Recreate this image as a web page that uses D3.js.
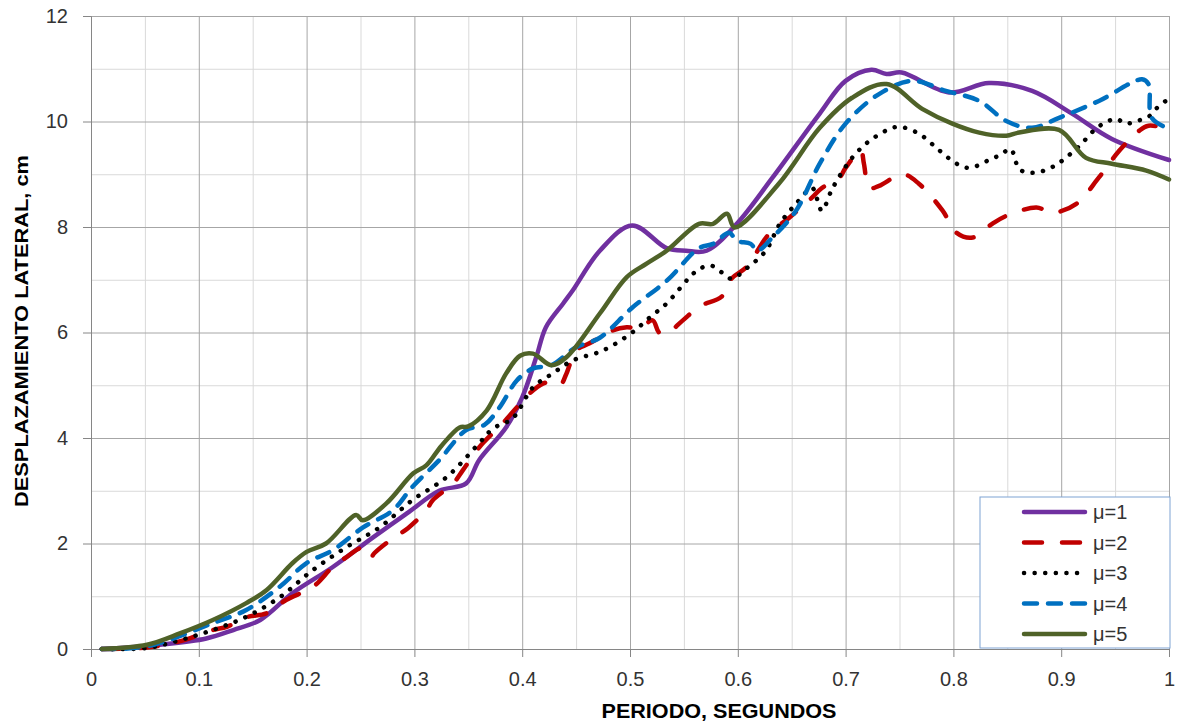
<!DOCTYPE html>
<html>
<head>
<meta charset="utf-8">
<script src="https://cdn.jsdelivr.net/npm/d3@7"></script>
<style>
body { margin: 0; background: #fff; }
text { font-family: "Liberation Sans", Arial, sans-serif; }
</style>
</head>
<body>
<script>
// periods (s) and lateral displacement (cm), one pair of arrays per ductility
var mu1T = [0.01,0.02,0.064,0.107,0.132,0.157,0.187,0.224,0.262,0.293,0.323,0.348,0.36,0.385,0.40,0.413,0.422,0.438,0.447,0.472,0.502,0.534,0.552,0.571,0.599,0.632,0.676,0.70,0.724,0.738,0.752,0.796,0.833,0.873,0.91,0.947,1.0];
var mu1D = [0,0.01,0.08,0.2,0.36,0.55,1.06,1.55,2.12,2.57,3.0,3.14,3.58,4.2,4.77,5.53,6.1,6.55,6.8,7.55,8.03,7.6,7.55,7.55,8.06,8.93,10.15,10.77,10.98,10.9,10.93,10.55,10.73,10.58,10.15,9.67,9.27];

var mu2T = [0.01,0.052,0.083,0.113,0.126,0.144,0.163,0.181,0.206,0.224,0.237,0.251,0.259,0.263,0.28,0.294,0.311,0.317,0.336,0.345,0.36,0.382,0.395,0.41,0.422,0.435,0.441,0.45,0.462,0.484,0.497,0.509,0.521,0.527,0.534,0.549,0.565,0.585,0.594,0.608,0.629,0.648,0.669,0.678,0.694,0.70,0.714,0.717,0.722,0.731,0.753,0.768,0.79,0.803,0.818,0.836,0.849,0.877,0.892,0.914,0.935,0.954,0.972,0.981,1.0];
var mu2D = [0,0.03,0.15,0.36,0.42,0.6,0.68,0.93,1.18,1.55,1.74,1.91,1.72,1.82,2.1,2.29,2.63,2.82,3.14,3.39,3.82,4.28,4.58,4.9,5.05,5.0,5.22,5.66,5.79,6.04,6.1,6.08,6.23,6.0,5.98,6.23,6.5,6.68,7.02,7.24,7.87,8.18,8.56,8.74,8.93,9.12,9.45,9.2,8.74,8.78,9.0,8.82,8.31,7.89,7.8,8.06,8.21,8.37,8.27,8.44,8.94,9.45,9.82,9.92,9.86];

var mu3T = [0.01,0.052,0.083,0.113,0.144,0.175,0.206,0.237,0.268,0.298,0.33,0.36,0.373,0.391,0.41,0.428,0.447,0.475,0.502,0.518,0.534,0.555,0.564,0.575,0.585,0.594,0.609,0.626,0.639,0.654,0.669,0.673,0.678,0.688,0.706,0.722,0.741,0.75,0.768,0.787,0.803,0.815,0.835,0.844,0.853,0.861,0.87,0.881,0.892,0.901,0.917,0.932,0.941,0.951,0.96,0.97,0.981,0.989,0.997,1.0];
var mu3D = [0,0.02,0.17,0.36,0.61,0.98,1.5,1.93,2.31,2.82,3.26,3.9,4.18,4.37,4.96,5.22,5.47,5.66,6.0,6.28,6.55,7.04,7.2,7.27,7.14,7.02,7.23,7.55,8.06,8.44,8.74,8.56,8.31,8.74,9.31,9.63,9.86,9.9,9.77,9.45,9.2,9.12,9.29,9.37,9.48,9.1,9.03,9.05,9.14,9.26,9.54,9.86,9.98,10.05,9.96,10.01,10.09,10.26,10.39,10.42];

var mu4T = [0.01,0.052,0.113,0.144,0.175,0.2,0.224,0.252,0.28,0.298,0.323,0.348,0.365,0.379,0.395,0.41,0.427,0.45,0.472,0.502,0.534,0.564,0.577,0.592,0.599,0.612,0.618,0.632,0.654,0.676,0.70,0.731,0.762,0.793,0.824,0.849,0.873,0.898,0.935,0.975,0.981,0.984,1.0];
var mu4D = [0,0.05,0.49,0.74,1.18,1.63,1.87,2.3,2.63,3.07,3.58,4.15,4.25,4.58,5.09,5.32,5.38,5.72,5.9,6.47,6.98,7.6,7.68,7.89,7.74,7.68,7.55,7.8,8.31,9.2,9.96,10.52,10.77,10.58,10.39,10.01,9.88,10.07,10.39,10.8,10.71,10.07,9.86];

var mu5T = [0.01,0.052,0.083,0.113,0.144,0.163,0.187,0.2,0.218,0.246,0.252,0.274,0.299,0.311,0.325,0.342,0.35,0.367,0.385,0.398,0.41,0.427,0.441,0.472,0.497,0.515,0.534,0.564,0.577,0.59,0.597,0.638,0.676,0.706,0.738,0.771,0.799,0.824,0.849,0.861,0.898,0.923,0.947,0.979,1.0];
var mu5D = [0,0.08,0.3,0.55,0.87,1.12,1.63,1.84,2.0,2.54,2.44,2.76,3.33,3.48,3.85,4.2,4.22,4.52,5.22,5.56,5.6,5.38,5.53,6.36,7.05,7.3,7.55,8.06,8.06,8.25,7.99,8.82,9.88,10.45,10.71,10.24,9.96,9.79,9.73,9.79,9.84,9.31,9.2,9.07,8.9];

var seriesNames = ["μ=1", "μ=2", "μ=3", "μ=4", "μ=5"];
var xTicks = [0, 0.1, 0.2, 0.3, 0.4, 0.5, 0.6, 0.7, 0.8, 0.9, 1];
var xMinor = [0.05, 0.15, 0.25, 0.35, 0.45, 0.55, 0.65, 0.75, 0.85, 0.95];
var yTicks = [0, 2, 4, 6, 8, 10, 12];
var yMinor = [1, 3, 5, 7, 9, 11];

var margin = {top: 16, right: 9, bottom: 78, left: 91};
var width = 1178 - margin.left - margin.right;
var height = 727 - margin.top - margin.bottom;

var svg = d3.select("body").append("svg")
    .attr("width", width + margin.left + margin.right)
    .attr("height", height + margin.top + margin.bottom)
    .append("g")
    .attr("transform", "translate(" + margin.left + "," + margin.top + ")");

var x = d3.scaleLinear().domain([0, 1]).range([0, width]);
var y = d3.scaleLinear().domain([0, 12]).range([height, 0]);

// minor grid first, major on top of it
svg.append("g")
    .attr("transform", "translate(0," + height + ")")
    .call(d3.axisBottom(x).tickValues(xMinor).tickSize(-height).tickFormat(""))
    .call(g => g.select(".domain").remove())
    .call(g => g.selectAll("line").attr("stroke", "#d9d9d9"));
svg.append("g")
    .call(d3.axisLeft(y).tickValues(yMinor).tickSize(-width).tickFormat(""))
    .call(g => g.select(".domain").remove())
    .call(g => g.selectAll("line").attr("stroke", "#d9d9d9"));
svg.append("g")
    .attr("transform", "translate(0," + height + ")")
    .call(d3.axisBottom(x).tickValues(xTicks).tickSize(-height).tickFormat(""))
    .call(g => g.select(".domain").remove())
    .call(g => g.selectAll("line").attr("stroke", "#a6a6a6"));
svg.append("g")
    .call(d3.axisLeft(y).tickValues(yTicks).tickSize(-width).tickFormat(""))
    .call(g => g.select(".domain").remove())
    .call(g => g.selectAll("line").attr("stroke", "#a6a6a6"));

// axes
var xAxis = svg.append("g")
    .attr("transform", "translate(0," + height + ")")
    .call(d3.axisBottom(x).tickValues(xTicks).tickSize(8).tickPadding(15).tickFormat(d => d));
var yAxis = svg.append("g")
    .call(d3.axisLeft(y).tickValues(yTicks).tickSize(8).tickPadding(15).tickFormat(d => d));
[xAxis, yAxis].forEach(function(a) {
    a.select(".domain").attr("stroke", "#868686");
    a.selectAll(".tick line").attr("stroke", "#868686");
    a.selectAll("text").style("font-size", "20px").attr("fill", "#333");
});

// axis titles
svg.append("text")
    .attr("x", width / 2 + 89)
    .attr("y", height + 69)
    .attr("text-anchor", "middle")
    .attr("textLength", 235)
    .attr("lengthAdjust", "spacingAndGlyphs")
    .style("font-size", "21px")
    .style("font-weight", "bold")
    .text("PERIODO, SEGUNDOS");

svg.append("text")
    .attr("transform", "translate(" + (-63) + "," + (331 - margin.top) + ") rotate(-90)")
    .attr("text-anchor", "middle")
    .attr("textLength", 352)
    .attr("lengthAdjust", "spacingAndGlyphs")
    .style("font-size", "19px")
    .style("font-weight", "bold")
    .text("DESPLAZAMIENTO LATERAL, cm");

// series
var series = [
    {name: seriesNames[0], t: mu1T, d: mu1D, color: "#7030a0", dash: null},
    {name: seriesNames[1], t: mu2T, d: mu2D, color: "#c00000", dash: "18,20"},
    {name: seriesNames[2], t: mu3T, d: mu3D, color: "#000000", dash: "0.1,10.5"},
    {name: seriesNames[3], t: mu4T, d: mu4D, color: "#0070c0", dash: "13,11"},
    {name: seriesNames[4], t: mu5T, d: mu5D, color: "#4f6228", dash: null}
];

var line = d3.line()
    .x(function(p) { return x(p[0]); })
    .y(function(p) { return y(p[1]); })
    .curve(d3.curveCatmullRom.alpha(0.5));

series.forEach(function(s) {
    svg.append("path")
        .datum(d3.zip(s.t, s.d))
        .attr("fill", "none")
        .attr("stroke", s.color)
        .attr("stroke-width", 4.5)
        .attr("stroke-linecap", "round")
        .attr("stroke-linejoin", "round")
        .attr("stroke-dasharray", s.dash)
        .attr("d", line);
});

// legend
var legend = svg.append("g")
    .attr("transform", "translate(" + (980 - margin.left) + "," + (497 - margin.top) + ")");
legend.append("rect")
    .attr("width", 190)
    .attr("height", 151)
    .attr("fill", "#fff")
    .attr("stroke", "#7ea3d3")
    .attr("stroke-width", 1);
series.forEach(function(s, i) {
    var row = legend.append("g").attr("transform", "translate(0," + (15 + i * 30.5) + ")");
    row.append("line")
        .attr("x1", 44).attr("x2", 105)
        .attr("stroke", s.color)
        .attr("stroke-width", 4.5)
        .attr("stroke-linecap", "round")
        .attr("stroke-dasharray", s.dash);
    row.append("text")
        .attr("x", 113)
        .attr("dy", "0.35em")
        .style("font-size", "20px")
        .attr("fill", "#333")
        .text(s.name);
});
</script>
</body>
</html>
